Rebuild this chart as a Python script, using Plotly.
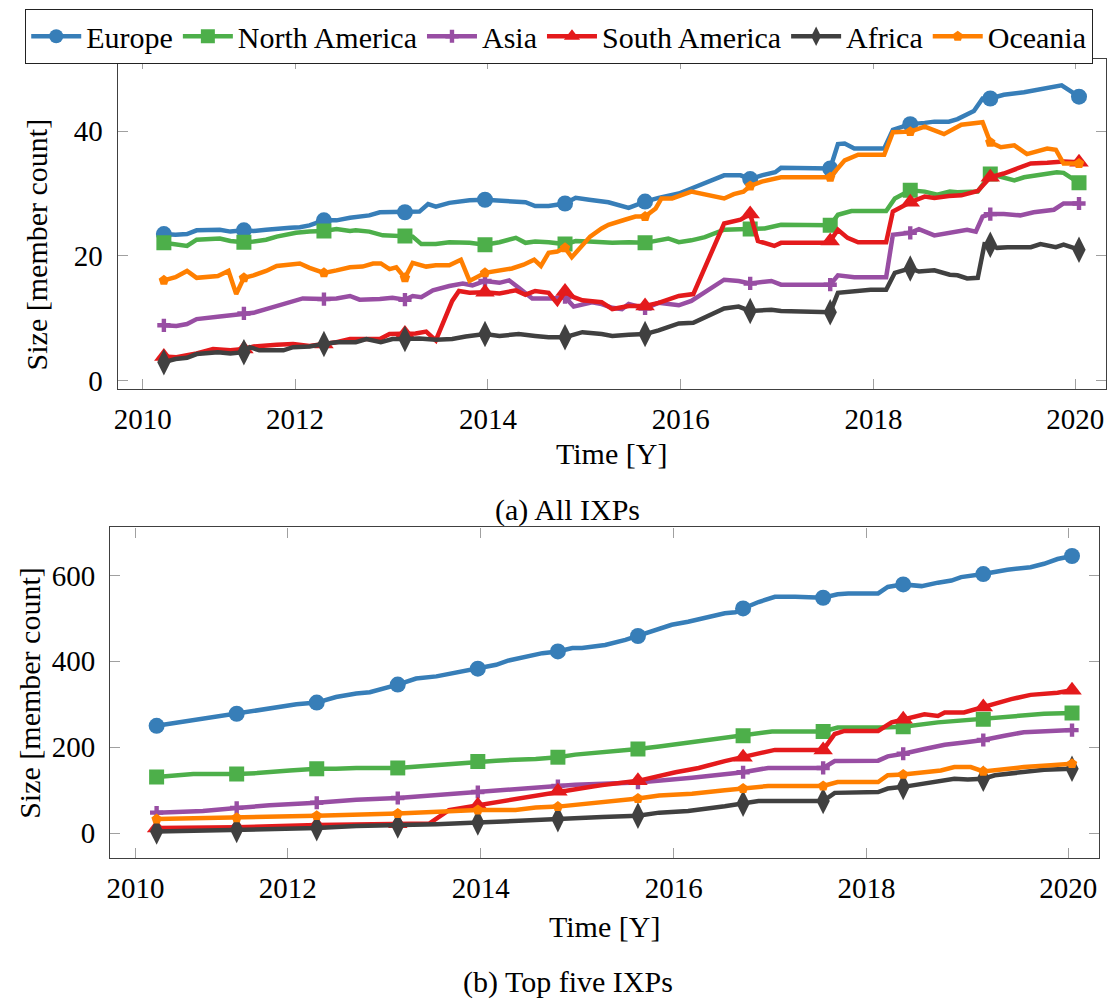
import plotly.graph_objects as go

# ---------------- data ----------------
MARK_YEARS = [2010.64, 2011.47, 2012.30, 2013.14, 2013.97, 2014.80,
              2015.63, 2016.72, 2017.55, 2018.38, 2019.21, 2020.13]
TICK_POS = [2010.42, 2012, 2014, 2016, 2018, 2020.09]
TICK_TEXT = ["2010", "2012", "2014", "2016", "2018", "2020"]

# (a) All IXPs
EU_A_X = [2010.64, 2010.76, 2010.88, 2010.98, 2011.22, 2011.33, 2011.47, 2011.57, 2011.70, 2011.81,
          2011.95, 2012.05, 2012.15, 2012.30, 2012.43, 2012.57, 2012.77, 2012.88, 2013.01, 2013.14,
          2013.29, 2013.38, 2013.46, 2013.60, 2013.81, 2013.97, 2014.12, 2014.22, 2014.39, 2014.49,
          2014.63, 2014.80, 2014.91, 2015.05, 2015.25, 2015.46, 2015.63, 2015.77, 2015.98, 2016.11,
          2016.45, 2016.62, 2016.72, 2016.84, 2016.98, 2017.04, 2017.49, 2017.55, 2017.63, 2017.70,
          2017.80, 2018.11, 2018.20, 2018.38, 2018.53, 2018.63, 2018.78, 2018.87, 2019.04, 2019.13,
          2019.21, 2019.35, 2019.56, 2019.66, 2019.95, 2020.13]
EU_A_Y = [23.5, 23.4, 23.5, 24.1, 24.2, 23.9, 24.1, 24.0, 24.2, 24.4,
          24.5, 24.6, 24.9, 25.7, 25.7, 26.1, 26.5, 27.0, 27.0, 27.0,
          27.1, 28.3, 27.9, 28.5, 28.9, 29.0, 28.9, 28.8, 28.6, 28.0,
          28.0, 28.4, 29.3, 29.0, 28.6, 27.7, 28.7, 29.3, 30.0, 30.8,
          32.9, 32.9, 32.3, 32.9, 33.4, 34.1, 34.1, 34.0, 37.9, 38.0,
          37.2, 37.2, 40.2, 41.1, 41.3, 41.5, 41.5, 41.9, 43.2, 45.2,
          45.2, 45.8, 46.2, 46.5, 47.3, 45.5]

NA_A_X = [2010.64, 2010.77, 2010.88, 2010.98, 2011.22, 2011.33, 2011.47, 2011.57, 2011.70, 2011.81,
          2012.01, 2012.15, 2012.30, 2012.43, 2012.57, 2012.63, 2012.77, 2012.91, 2013.01, 2013.14,
          2013.22, 2013.31, 2013.46, 2013.60, 2013.81, 2013.97, 2014.12, 2014.29, 2014.39, 2014.49,
          2014.63, 2014.80, 2014.91, 2015.05, 2015.29, 2015.46, 2015.63, 2015.87, 2015.98, 2016.11,
          2016.25, 2016.45, 2016.72, 2016.87, 2017.04, 2017.55, 2017.63, 2017.77, 2018.13, 2018.22,
          2018.38, 2018.53, 2018.66, 2018.79, 2018.87, 2019.08, 2019.21, 2019.32, 2019.46, 2019.56,
          2019.70, 2019.90, 2019.97, 2020.13]
NA_A_Y = [22.1, 21.8, 21.6, 22.6, 22.8, 22.4, 22.2, 22.3, 22.6, 23.1,
          23.7, 23.9, 24.0, 24.3, 24.0, 24.1, 23.9, 23.3, 23.2, 23.2,
          23.1, 21.9, 21.9, 22.2, 22.1, 21.8, 22.2, 22.9, 22.1, 22.3,
          22.2, 21.9, 22.4, 22.3, 22.1, 22.2, 22.1, 22.8, 22.2, 22.5,
          23.0, 24.2, 24.3, 24.4, 25.0, 24.9, 26.6, 27.2, 27.2, 29.2,
          30.5, 30.3, 29.8, 30.3, 30.2, 30.3, 33.1, 32.6, 32.1, 32.6,
          32.9, 33.4, 33.3, 31.7]

AS_A_X = [2010.64, 2010.77, 2010.88, 2010.98, 2011.22, 2011.47, 2011.57, 2011.70, 2011.91, 2012.08,
          2012.30, 2012.43, 2012.57, 2012.67, 2012.88, 2013.01, 2013.14, 2013.22, 2013.31, 2013.43,
          2013.60, 2013.74, 2013.84, 2013.97, 2014.12, 2014.22, 2014.32, 2014.46, 2014.67, 2014.80,
          2014.89, 2014.98, 2015.08, 2015.18, 2015.29, 2015.39, 2015.46, 2015.63, 2015.77, 2015.98,
          2016.11, 2016.45, 2016.60, 2016.72, 2016.94, 2017.04, 2017.55, 2017.63, 2017.80, 2018.13,
          2018.20, 2018.38, 2018.47, 2018.63, 2018.79, 2018.97, 2019.06, 2019.13, 2019.21, 2019.35,
          2019.52, 2019.66, 2019.87, 2019.97, 2020.13]
AS_A_Y = [8.9, 8.8, 9.1, 9.9, 10.3, 10.8, 10.9, 11.5, 12.5, 13.2,
          13.1, 13.2, 13.6, 13.0, 13.1, 13.3, 13.0, 13.6, 13.4, 14.5,
          15.2, 15.6, 15.3, 16.0, 15.7, 16.1, 14.9, 13.2, 13.2, 13.4,
          11.9, 12.3, 12.6, 12.3, 11.7, 11.5, 12.3, 11.6, 12.5, 12.1,
          12.8, 16.2, 16.0, 15.6, 16.0, 15.4, 15.4, 16.9, 16.6, 16.6,
          23.4, 23.7, 24.3, 23.3, 23.8, 24.2, 23.9, 26.3, 26.7, 26.7,
          26.5, 27.0, 27.4, 28.4, 28.4]

SA_A_X = [2010.64, 2010.77, 2010.88, 2010.98, 2011.15, 2011.33, 2011.47, 2011.57, 2011.81, 2011.98,
          2012.15, 2012.30, 2012.43, 2012.57, 2012.77, 2012.88, 2012.98, 2013.14, 2013.25, 2013.36,
          2013.46, 2013.63, 2013.70, 2013.81, 2013.97, 2014.12, 2014.29, 2014.39, 2014.49, 2014.63,
          2014.72, 2014.80, 2014.89, 2014.98, 2015.18, 2015.29, 2015.46, 2015.63, 2015.77, 2015.98,
          2016.13, 2016.45, 2016.62, 2016.72, 2016.80, 2016.97, 2017.04, 2017.49, 2017.55, 2017.63,
          2017.73, 2017.84, 2018.13, 2018.20, 2018.38, 2018.53, 2018.63, 2018.78, 2018.91, 2019.08,
          2019.21, 2019.35, 2019.63, 2019.80, 2019.97, 2020.13]
SA_A_Y = [3.9, 3.8, 4.1, 4.4, 5.1, 4.9, 5.1, 5.5, 5.8, 5.9,
          5.6, 5.9, 6.2, 6.7, 6.8, 6.7, 7.5, 7.6, 7.6, 7.9,
          6.5, 12.8, 14.4, 14.1, 14.2, 14.0, 14.5, 13.8, 14.4, 14.1,
          12.4, 14.3, 13.4, 12.9, 12.6, 11.5, 12.0, 12.0, 12.5, 13.6,
          13.9, 25.2, 25.8, 26.7, 22.4, 21.6, 22.1, 22.1, 22.4, 24.2,
          22.9, 22.2, 22.2, 27.1, 28.6, 29.5, 29.3, 29.6, 29.7, 30.4,
          32.6, 33.2, 34.8, 34.9, 35.1, 35.0]

AF_A_X = [2010.64, 2010.76, 2010.88, 2010.98, 2011.20, 2011.33, 2011.47, 2011.53, 2011.63, 2011.88,
          2011.98, 2012.15, 2012.30, 2012.43, 2012.63, 2012.74, 2012.89, 2013.01, 2013.14, 2013.29,
          2013.46, 2013.63, 2013.77, 2013.97, 2014.12, 2014.32, 2014.49, 2014.63, 2014.80, 2014.98,
          2015.18, 2015.29, 2015.46, 2015.63, 2015.77, 2015.98, 2016.13, 2016.45, 2016.60, 2016.72,
          2016.94, 2017.04, 2017.55, 2017.63, 2017.97, 2018.13, 2018.22, 2018.38, 2018.47, 2018.63,
          2018.79, 2018.87, 2018.97, 2019.08, 2019.15, 2019.21, 2019.28, 2019.39, 2019.63, 2019.73,
          2019.89, 2019.97, 2020.13]
AF_A_Y = [3.0, 3.5, 3.7, 4.3, 4.6, 4.4, 4.6, 5.4, 4.9, 4.9,
          5.4, 5.5, 5.9, 6.2, 6.2, 6.7, 6.2, 6.7, 6.7, 6.8,
          6.6, 6.7, 7.1, 7.5, 7.2, 7.5, 7.2, 7.0, 7.0, 7.8,
          7.5, 7.2, 7.4, 7.5, 8.1, 9.2, 9.3, 11.6, 11.9, 11.2,
          11.4, 11.2, 11.0, 14.1, 14.6, 14.6, 17.3, 18.0, 17.5, 17.7,
          17.0, 16.9, 16.4, 16.5, 21.9, 21.8, 21.3, 21.4, 21.4, 21.9,
          21.4, 21.8, 21.0]

OC_A_X = [2010.64, 2010.76, 2010.88, 2010.98, 2011.20, 2011.31, 2011.39, 2011.47, 2011.57, 2011.70,
          2011.81, 2012.05, 2012.15, 2012.30, 2012.43, 2012.57, 2012.70, 2012.81, 2012.89, 2012.98,
          2013.05, 2013.14, 2013.22, 2013.36, 2013.46, 2013.60, 2013.72, 2013.81, 2013.97, 2014.12,
          2014.25, 2014.37, 2014.48, 2014.55, 2014.63, 2014.72, 2014.80, 2014.87, 2014.98, 2015.06,
          2015.18, 2015.25, 2015.42, 2015.53, 2015.63, 2015.74, 2015.80, 2015.91, 2016.11, 2016.45,
          2016.55, 2016.65, 2016.72, 2016.84, 2017.04, 2017.55, 2017.70, 2017.84, 2018.11, 2018.20,
          2018.38, 2018.53, 2018.73, 2018.91, 2019.13, 2019.21, 2019.32, 2019.46, 2019.59, 2019.80,
          2019.89, 2019.97, 2020.13]
OC_A_Y = [16.1, 16.6, 17.6, 16.5, 16.8, 17.6, 13.9, 16.5, 16.9, 17.6,
          18.4, 18.8, 18.1, 17.3, 17.7, 18.2, 18.3, 18.8, 18.8, 17.9,
          18.2, 16.5, 18.9, 18.3, 18.5, 18.5, 19.4, 16.0, 17.3, 17.7,
          18.0, 18.6, 19.4, 18.4, 20.5, 20.7, 21.3, 19.8, 21.8, 23.1,
          24.4, 25.0, 25.8, 26.3, 26.3, 27.6, 29.2, 29.2, 30.3, 29.2,
          29.9, 30.3, 31.2, 31.9, 32.6, 32.6, 35.3, 36.2, 36.2, 39.8,
          39.9, 40.7, 39.5, 41.0, 41.4, 38.2, 37.4, 37.7, 36.3, 37.2,
          37.0, 34.8, 34.8]

# (b) Top five IXPs
EU_B_X = [2010.64, 2010.78, 2011.02, 2011.23, 2011.47, 2011.68, 2011.95, 2012.09, 2012.30, 2012.50,
          2012.71, 2012.85, 2013.14, 2013.33, 2013.54, 2013.67, 2013.97, 2014.16, 2014.29, 2014.43,
          2014.64, 2014.80, 2014.95, 2015.05, 2015.16, 2015.29, 2015.50, 2015.63, 2015.78, 2015.98,
          2016.15, 2016.53, 2016.64, 2016.72, 2016.88, 2017.05, 2017.26, 2017.55, 2017.70, 2017.81,
          2018.12, 2018.22, 2018.38, 2018.57, 2018.74, 2018.88, 2018.98, 2019.08, 2019.21, 2019.46,
          2019.70, 2019.84, 2019.98, 2020.13]
EU_B_Y = [250, 255, 262, 271, 278, 286, 296, 300, 304, 317,
          325, 328, 346, 360, 365, 371, 383, 392, 402, 408,
          419, 423, 431, 431, 434, 438, 450, 459, 471, 485,
          492, 512, 514, 523, 538, 550, 550, 548, 556, 558,
          558, 573, 579, 575, 583, 588, 596, 598, 603, 613,
          619, 627, 638, 645]

NA_B_X = [2010.64, 2011.02, 2011.47, 2011.68, 2012.02, 2012.30, 2012.50, 2012.71, 2013.14, 2013.47,
          2013.67, 2013.97, 2014.16, 2014.57, 2014.80, 2014.98, 2015.16, 2015.63, 2015.85, 2016.05,
          2016.53, 2016.72, 2017.02, 2017.55, 2017.70, 2018.15, 2018.38, 2018.74, 2018.95, 2019.21,
          2019.39, 2019.63, 2019.84, 2020.13]
NA_B_Y = [131, 138, 138, 140, 146, 150, 150, 152, 152, 158,
          162, 167, 169, 173, 177, 183, 186, 196, 202, 208,
          223, 227, 237, 237, 246, 246, 248, 258, 262, 265,
          271, 273, 278, 280]

AS_B_X = [2010.64, 2011.12, 2011.47, 2011.81, 2012.30, 2012.71, 2013.14, 2013.40, 2013.67, 2013.97,
          2014.40, 2014.80, 2014.98, 2015.16, 2015.63, 2016.19, 2016.53, 2016.72, 2016.98, 2017.55,
          2017.67, 2018.12, 2018.22, 2018.38, 2018.60, 2018.81, 2019.01, 2019.21, 2019.43, 2019.63,
          2019.91, 2020.13]
AS_B_Y = [48, 52, 59, 65, 71, 78, 82, 86, 91, 96,
          102, 110, 113, 114, 118, 129, 137, 142, 152, 152,
          168, 169, 179, 185, 196, 206, 211, 217, 227, 235,
          238, 240]

SA_B_X = [2010.64, 2011.47, 2012.30, 2013.14, 2013.47, 2013.67, 2013.97, 2014.23, 2014.50, 2014.80,
          2014.98, 2015.16, 2015.26, 2015.63, 2016.02, 2016.26, 2016.53, 2016.72, 2017.05, 2017.55,
          2017.67, 2017.77, 2018.12, 2018.26, 2018.38, 2018.60, 2018.74, 2018.81, 2019.01, 2019.21,
          2019.50, 2019.70, 2019.98, 2020.13]
SA_B_Y = [12, 14, 19, 22, 23, 54, 65, 77, 86, 98,
          104, 109, 112, 122, 142, 152, 168, 177, 194, 194,
          231, 238, 238, 258, 265, 277, 273, 281, 281, 294,
          312, 322, 327, 333]

AF_B_X = [2010.64, 2011.47, 2012.30, 2012.71, 2013.14, 2013.54, 2013.97, 2014.40, 2014.80, 2015.26,
          2015.63, 2015.85, 2016.15, 2016.53, 2016.72, 2016.88, 2017.55, 2017.67, 2018.12, 2018.22,
          2018.38, 2018.60, 2018.81, 2018.91, 2019.05, 2019.21, 2019.33, 2019.57, 2019.84, 2020.13]
AF_B_Y = [4, 8, 12, 17, 18, 21, 25, 28, 33, 38,
          41, 48, 52, 63, 69, 75, 75, 94, 96, 104,
          108, 115, 123, 127, 125, 127, 135, 142, 148, 150]

OC_B_X = [2010.64, 2011.47, 2012.30, 2013.14, 2013.54, 2013.97, 2014.36, 2014.57, 2014.80, 2015.16,
          2015.63, 2015.85, 2016.19, 2016.53, 2016.72, 2016.98, 2017.55, 2017.70, 2018.12, 2018.22,
          2018.38, 2018.60, 2018.77, 2018.91, 2019.08, 2019.21, 2019.36, 2019.63, 2019.91, 2020.13]
OC_B_Y = [33, 36, 41, 46, 50, 54, 54, 60, 62, 70,
          81, 88, 92, 100, 104, 110, 110, 119, 119, 135,
          137, 142, 146, 154, 154, 144, 148, 154, 158, 162]

# ---------------- styling ----------------
W, H = 1108, 999
FONT = "Liberation Serif, Times New Roman, serif"

SERIES = [
    ("Europe", "#377eb8", "circle", 16, EU_A_X, EU_A_Y, EU_B_X, EU_B_Y),
    ("North America", "#4daf4a", "square", 15, NA_A_X, NA_A_Y, NA_B_X, NA_B_Y),
    ("Asia", "#984ea3", "cross", 11, AS_A_X, AS_A_Y, AS_B_X, AS_B_Y),
    ("South America", "#e41a1c", "triangle-up", 17, SA_A_X, SA_A_Y, SA_B_X, SA_B_Y),
    ("Africa", "#404040", "diamond-tall", 19, AF_A_X, AF_A_Y, AF_B_X, AF_B_Y),
    ("Oceania", "#ff7f00", "pentagon", 11, OC_A_X, OC_A_Y, OC_B_X, OC_B_Y),
]

marks = {round(m, 2) for m in MARK_YEARS}
fig = go.Figure()
for name, color, sym, msize, ax_, ay_, bx_, by_ in SERIES:
    for xs, ys, xa, ya in ((ax_, ay_, "x", "y"), (bx_, by_, "x2", "y2")):
        fig.add_trace(go.Scatter(x=xs, y=ys, mode="lines", xaxis=xa, yaxis=ya,
                                 line=dict(color=color, width=4.5), showlegend=False,
                                 hoverinfo="skip"))
        mx = [x for x in xs if round(x, 2) in marks]
        my = [y for x, y in zip(xs, ys) if round(x, 2) in marks]
        fig.add_trace(go.Scatter(x=mx, y=my, mode="markers", xaxis=xa, yaxis=ya,
                                 marker=dict(color=color, symbol=sym, size=msize, line=dict(width=0)),
                                 showlegend=False, hoverinfo="skip"))
for name, color, sym, msize, *_ in SERIES:
    fig.add_trace(go.Scatter(x=[None], y=[None], mode="lines+markers", name=name,
                             line=dict(color=color, width=4.5),
                             marker=dict(color=color, symbol=sym, size=min(msize, 14), line=dict(width=0))))

def xax(domain, anchor):
    return dict(domain=domain, anchor=anchor, range=[2010.16, 2020.41], tickvals=TICK_POS,
                ticktext=TICK_TEXT, ticks="inside", ticklen=10, tickwidth=1, tickcolor="#a0a0a0",
                showline=True, linecolor="#404040", linewidth=1.3, mirror="ticks",
                showgrid=False, zeroline=False, tickfont=dict(size=29, color="black", family=FONT),
                ticklabelstandoff=4)

def yax(domain, anchor, rng, tv):
    return dict(domain=domain, anchor=anchor, range=rng, tickvals=tv,
                ticks="inside", ticklen=10, tickwidth=1, tickcolor="#a0a0a0",
                showline=True, linecolor="#404040", linewidth=1.3, mirror="ticks",
                showgrid=False, zeroline=False, tickfont=dict(size=29, color="black", family=FONT),
                ticklabelstandoff=8)

fig.update_layout(
    width=W, height=H, autosize=False,
    margin=dict(l=0, r=0, t=0, b=0),
    paper_bgcolor="white", plot_bgcolor="white",
    font=dict(family=FONT, size=29, color="black"),
    xaxis=xax([114 / W, 1106 / W], "y"),
    yaxis=yax([1 - 392 / H, 1 - 59 / H], "x", [-1.27, 51.6], [0, 20, 40]),
    xaxis2=xax([106.7 / W, 1099 / W], "y2"),
    yaxis2=yax([1 - 865 / H, 1 - 531.7 / H], "x2", [-57.7, 711.5], [0, 200, 400, 600]),
    legend=dict(orientation="h", x=21 / W, y=1 - 9 / H, xanchor="left", yanchor="top",
                bordercolor="#222222", borderwidth=1.3, bgcolor="white",
                font=dict(size=30, family=FONT), itemwidth=50, tracegroupgap=0),
    showlegend=True,
)

def ann(text, x, y, angle=0):
    fig.add_annotation(text=text, x=x / W, y=1 - y / H, xref="paper", yref="paper",
                       xanchor="center", yanchor="middle", showarrow=False, textangle=angle,
                       font=dict(size=30, family=FONT, color="black"))

ann("Size [member count]", 32.5, 246, -90)
ann("Time [Y]", 610, 457)
ann("(a) All IXPs", 566, 514)
ann("Size [member count]", 25.5, 698, -90)
ann("Time [Y]", 603, 934)
ann("(b) Top five IXPs", 566, 990)

fig.write_html("out.html", config={"displayModeBar": False},
               post_script="document.body.style.margin='0';")
